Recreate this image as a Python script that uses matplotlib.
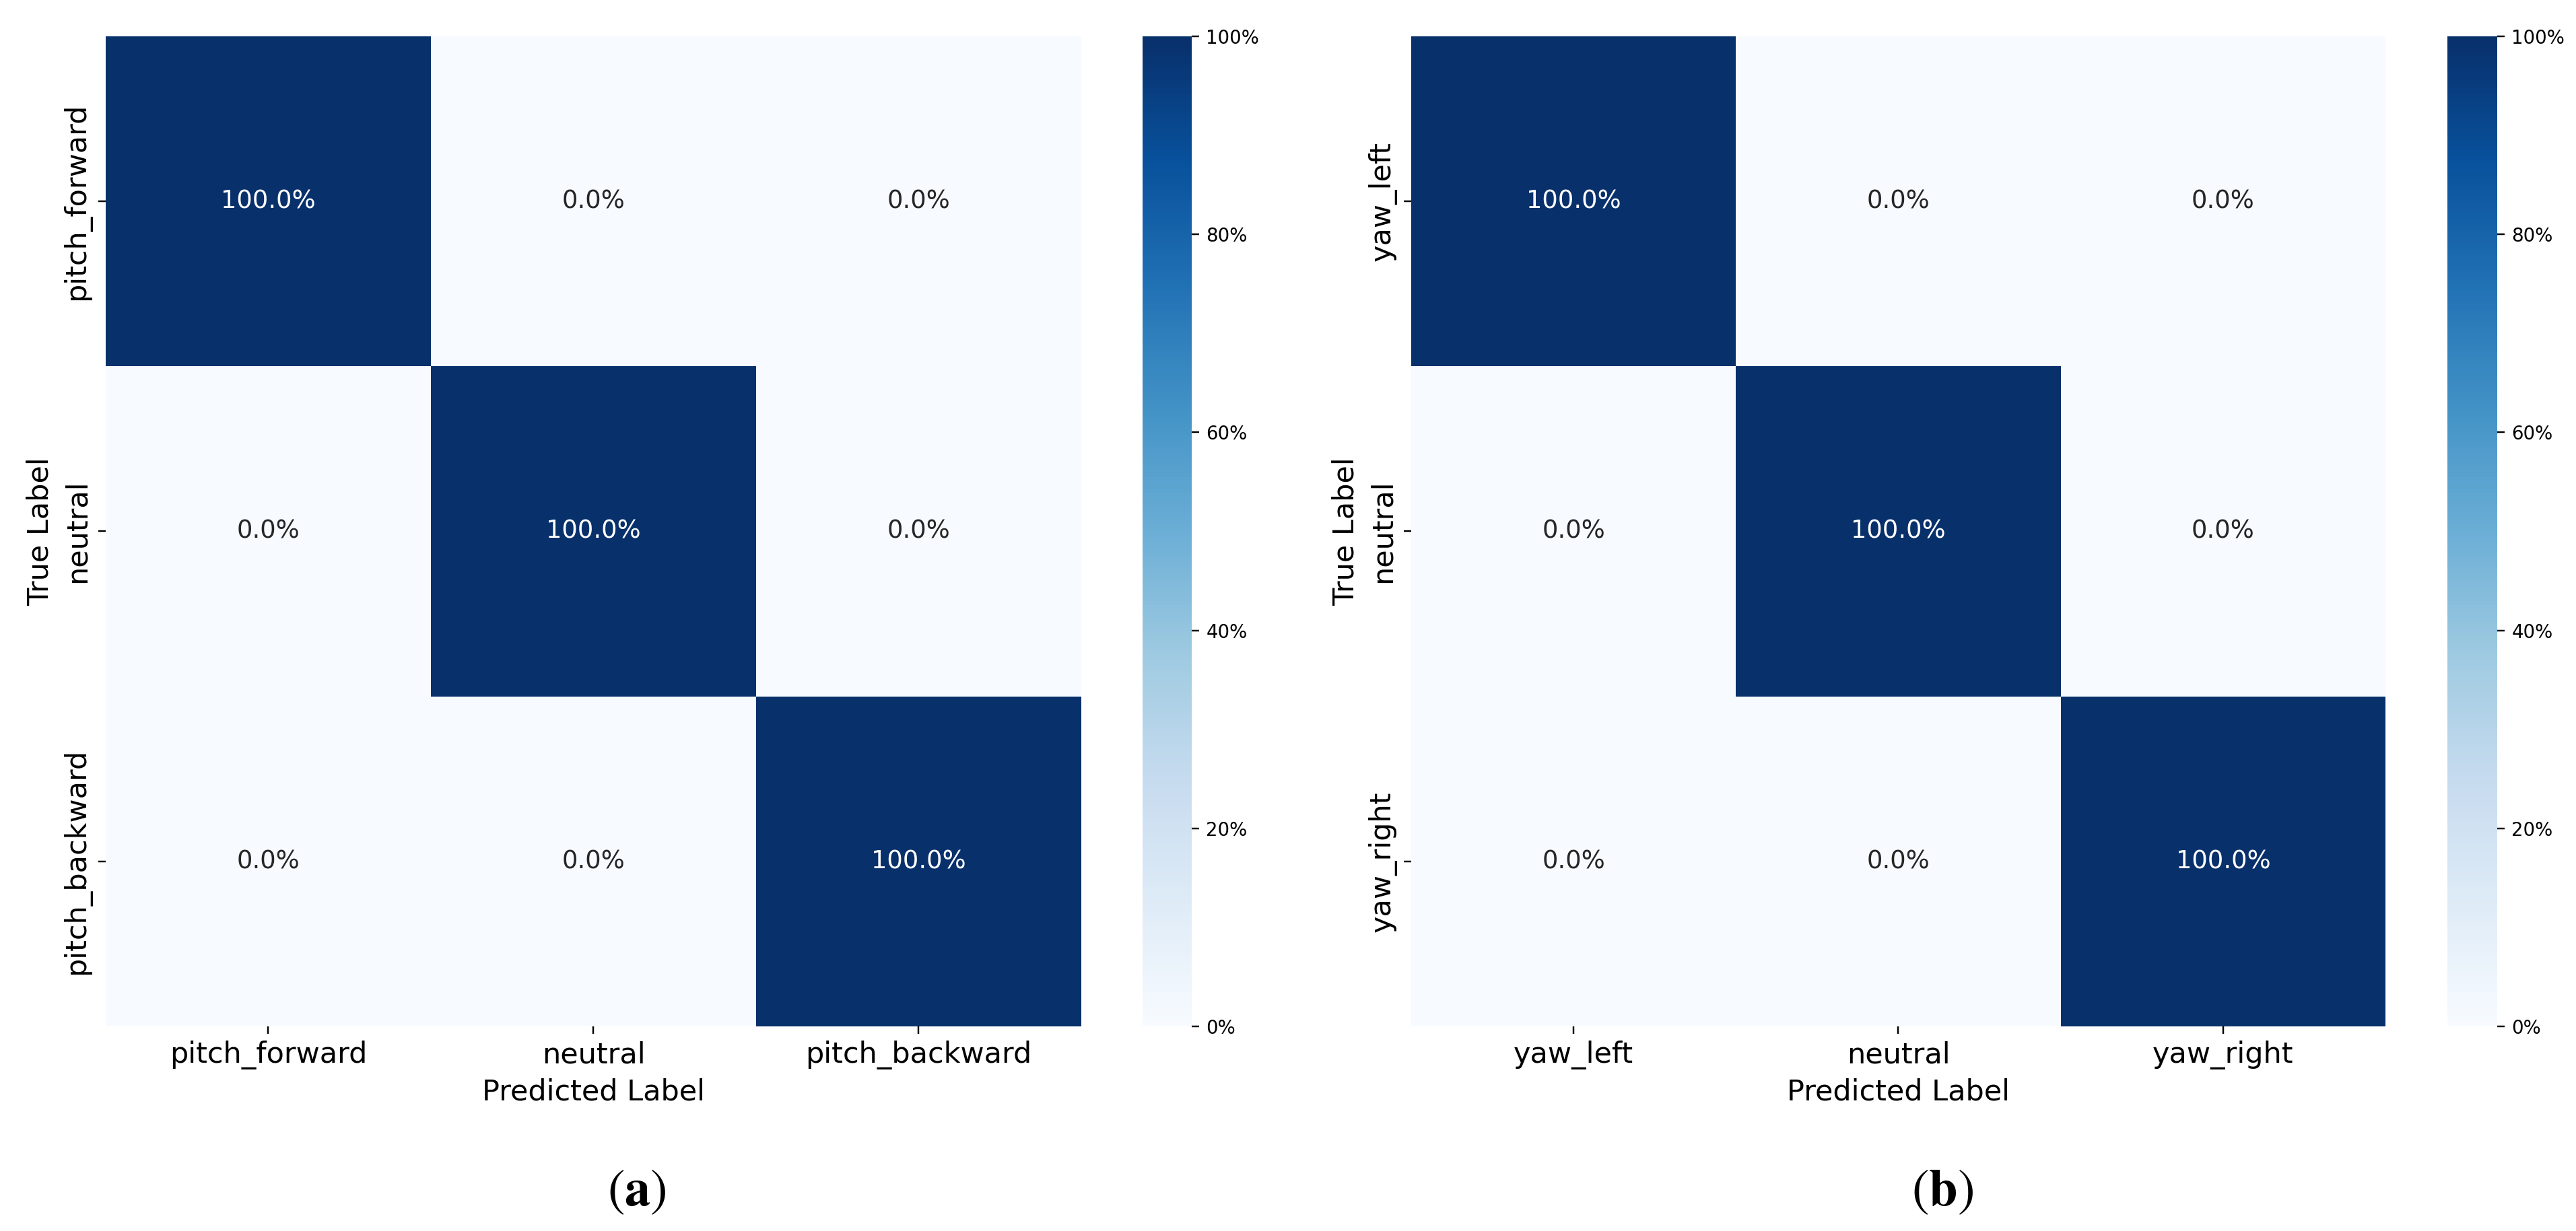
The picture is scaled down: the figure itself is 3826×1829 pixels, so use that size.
import numpy as np
import matplotlib
matplotlib.use("Agg")
import matplotlib.pyplot as plt
import seaborn as sns
from matplotlib.ticker import PercentFormatter

# confusion matrices (row = true label, column = predicted label), as fractions
pitch_labels = ["pitch_forward", "neutral", "pitch_backward"]
pitch_cm = [[1.0, 0.0, 0.0],
            [0.0, 1.0, 0.0],
            [0.0, 0.0, 1.0]]

yaw_labels = ["yaw_left", "neutral", "yaw_right"]
yaw_cm = [[1.0, 0.0, 0.0],
          [0.0, 1.0, 0.0],
          [0.0, 0.0, 1.0]]

captions = ["a", "b"]

plt.rcParams["mathtext.fontset"] = "stix"

W, H, DPI = 3827, 1829, 221
fig = plt.figure(figsize=(W / DPI, H / DPI), dpi=DPI)

# axes boxes in pixels: heatmap left/right, colorbar left/right
boxes = [(157, 1606, 1697, 1770), (2096, 3543, 3635, 3709)]
top, bottom = 54, 1525
caption_x = [946, 2885]


def draw(cm, labels, box, caption, cx):
    hl, hr, cl, cr = box
    ax = fig.add_axes([hl / W, (H - bottom) / H, (hr - hl) / W, (bottom - top) / H])
    cax = fig.add_axes([cl / W, (H - bottom) / H, (cr - cl) / W, (bottom - top) / H])
    sns.heatmap(np.array(cm), ax=ax, cbar_ax=cax, cmap="Blues", vmin=0, vmax=1,
                annot=True, fmt=".1%", annot_kws={"fontsize": 12},
                xticklabels=labels, yticklabels=labels, square=False)
    ax.set_xlabel("Predicted Label", fontsize=14)
    ax.set_ylabel("True Label", fontsize=14)
    ax.set_xticklabels(labels, rotation=0, fontsize=14)
    ax.set_yticklabels(labels, rotation=90, va="center", fontsize=14)
    cax.yaxis.set_major_formatter(PercentFormatter(1.0, decimals=0))
    cax.tick_params(labelsize=9)
    # sub-figure caption: light parentheses, bold letter
    fig.text(cx / W, (H - 1770) / H, r"$(\mathbf{%s})$" % caption,
             ha="center", va="center", fontsize=25)


draw(pitch_cm, pitch_labels, boxes[0], captions[0], caption_x[0])
draw(yaw_cm, yaw_labels, boxes[1], captions[1], caption_x[1])

fig.savefig("out.png", dpi=DPI)
